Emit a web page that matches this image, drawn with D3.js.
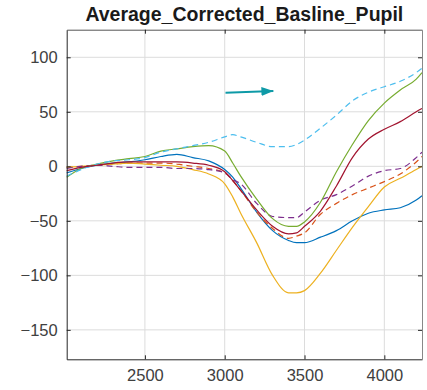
<!DOCTYPE html>
<html>
<head>
<meta charset="utf-8">
<script src="https://cdn.jsdelivr.net/npm/d3@7"></script>
<style>
  body { margin: 0; background: #fff; }
  svg { display: block; font-family: "Liberation Sans", Arial, sans-serif; }
</style>
</head>
<body>
<svg id="chart" width="427" height="390"></svg>
<script>
// sample times (ms) shared by every curve
const times = [2010, 2100, 2200, 2300, 2400, 2500, 2600, 2700, 2800, 2900, 3000, 3050, 3100,
  3200, 3300, 3400, 3450, 3500, 3600, 3700, 3800, 3900, 4000, 4100, 4200, 4236]

const blueVals   = [-6, -2, 1, 3, 4, 6, 9, 11, 8, 5, -3, -10, -20, -42, -59, -68, -70, -70, -65, -59, -50, -43, -40, -38, -31, -27]
const orangeVals = [-1, 0, 1, 2, 3, 3, 3, 2, 0, -2, -6, -13, -22, -42, -57, -66, -64, -61, -44, -34, -26, -20, -14, -7, 4, 9]
const yellowVals = [-1, 0, 1, 2, 3, 2, 1, 0, -3, -7, -16, -28, -43, -70, -100, -116, -116, -114, -98, -77, -56, -37, -19, -11, -3, 0]
const purpleVals = [-2, 0, 1, 0, -1, -1, -1, -2, -2, -3, -6, -12, -16, -34, -46, -47, -47, -42, -31, -26, -18, -9, -4, -2, 8, 13]
const greenVals  = [-10, -2, 2, 5, 7, 9, 14, 16, 18, 19, 14, 3, -9, -30, -48, -55, -55, -51, -33, -5, 20, 42, 58, 70, 80, 86]
const cyanVals   = [-9, -3, 2, 5, 6, 8, 13, 16, 19, 22, 27, 29, 27, 22, 18, 18, 20, 24, 35, 47, 60, 68, 73, 78, 86, 90]
const redVals    = [-4, -1, 1, 3, 4, 4, 4, 4, 3, 1, -5, -13, -22, -40, -55, -62, -61, -55, -41, -18, 8, 25, 34, 41, 50, 53]

const series = [
  { name: 'blue',   values: blueVals,   color: '#0072BD', dash: null },
  { name: 'orange', values: orangeVals, color: '#D95319', dash: '6,4' },
  { name: 'yellow', values: yellowVals, color: '#EDB120', dash: null },
  { name: 'purple', values: purpleVals, color: '#7E2F8E', dash: '6,4' },
  { name: 'green',  values: greenVals,  color: '#77AC30', dash: null },
  { name: 'cyan',   values: cyanVals,   color: '#4DBEEE', dash: '6,4' },
  { name: 'red',    values: redVals,    color: '#A2142F', dash: null }
]

const xTicks = [2500, 3000, 3500, 4000]
const yTicks = [-150, -100, -50, 0, 50, 100]
const title = 'Average_Corrected_Basline_Pupil'
// arrow annotation, data coords
const arrowFrom = [3005, 67.5]
const arrowTo = [3305, 69]

const svg = d3.select('#chart')
const m = { left: 66.7, top: 29.7, right: 427 - 422, bottom: 390 - 359.3 }
const W = 427, H = 390

const x = d3.scaleLinear().domain([2010, 4236]).range([m.left, W - m.right])
const y = d3.scaleLinear().domain([-177, 125.3]).range([H - m.bottom, m.top])

// grid
const grid = svg.append('g').attr('class','grid').attr('stroke', '#dcdcdc').attr('stroke-width', 1)
grid.selectAll('line.gx').data(xTicks).join('line').attr('class','gx')
  .attr('x1', d => x(d)).attr('x2', d => x(d)).attr('y1', m.top).attr('y2', H - m.bottom)
grid.selectAll('line.gy').data(yTicks).join('line').attr('class','gy')
  .attr('y1', d => y(d)).attr('y2', d => y(d)).attr('x1', m.left).attr('x2', W - m.right)

// curves
const line = d3.line().x(d => x(d[0])).y(d => y(d[1])).curve(d3.curveMonotoneX)
const plot = svg.append('g').attr('class','lines')
series.forEach(s => {
  plot.append('path')
    .datum(times.map((t, i) => [t, s.values[i]]))
    .attr('d', line)
    .attr('fill', 'none')
    .attr('stroke', s.color)
    .attr('stroke-width', 1.2)
    .attr('stroke-dasharray', s.dash)
})

// axes (inward ticks, box)
const xAxis = d3.axisBottom(x).tickValues(xTicks).tickFormat(d3.format('d'))
  .tickSizeInner(-4).tickSizeOuter(0).tickPadding(10)
const yAxis = d3.axisLeft(y).tickValues(yTicks).tickFormat(d3.format('d'))
  .tickSizeInner(-4).tickSizeOuter(0).tickPadding(9)
const gx = svg.append('g').attr('transform', `translate(0,${H - m.bottom})`).call(xAxis)
const gy = svg.append('g').attr('transform', `translate(${m.left},0)`).call(yAxis)
const gxTop = svg.append('g').attr('transform', `translate(0,${m.top})`)
  .call(d3.axisTop(x).tickValues(xTicks).tickSizeInner(-4).tickSizeOuter(0).tickFormat(''))
const gyRight = svg.append('g').attr('transform', `translate(${W - m.right},0)`)
  .call(d3.axisRight(y).tickValues(yTicks).tickSizeInner(-4).tickSizeOuter(0).tickFormat(''))

;[gx, gy, gxTop, gyRight].forEach(g => {
  g.select('.domain').attr('stroke', '#262626')
  g.selectAll('.tick line').attr('stroke', '#262626')
  g.selectAll('.tick text').attr('fill', '#404040').style('font-size', '16.5px')
    .style('font-family', '"Liberation Sans", Arial, sans-serif')
})
gxTop.select('.domain').attr('stroke', '#555')
gyRight.select('.domain').attr('stroke', '#888')
gx.selectAll('.tick text').attr('dy', '0.71em')

// title
svg.append('text')
  .attr('x', (m.left + W - m.right) / 2).attr('y', 20.7)
  .attr('text-anchor', 'middle')
  .style('font-size', '19.5px').style('font-weight', 'bold').attr('fill', '#1a1a1a')
  .text(title)

// arrow
const defs = svg.append('defs')
defs.append('marker').attr('id', 'ahead')
  .attr('viewBox', '0 0 12 9').attr('refX', 12).attr('refY', 4.5)
  .attr('markerWidth', 12).attr('markerHeight', 9).attr('markerUnits', 'userSpaceOnUse')
  .attr('orient', 'auto')
  .append('path').attr('d', 'M0,0 L12,4.5 L0,9 Z').attr('fill', '#0e9aa7')
svg.append('line')
  .attr('x1', x(arrowFrom[0])).attr('y1', y(arrowFrom[1]))
  .attr('x2', x(arrowTo[0])).attr('y2', y(arrowTo[1]))
  .attr('stroke', '#0e9aa7').attr('stroke-width', 2)
  .attr('marker-end', 'url(#ahead)')
</script>
</body>
</html>
